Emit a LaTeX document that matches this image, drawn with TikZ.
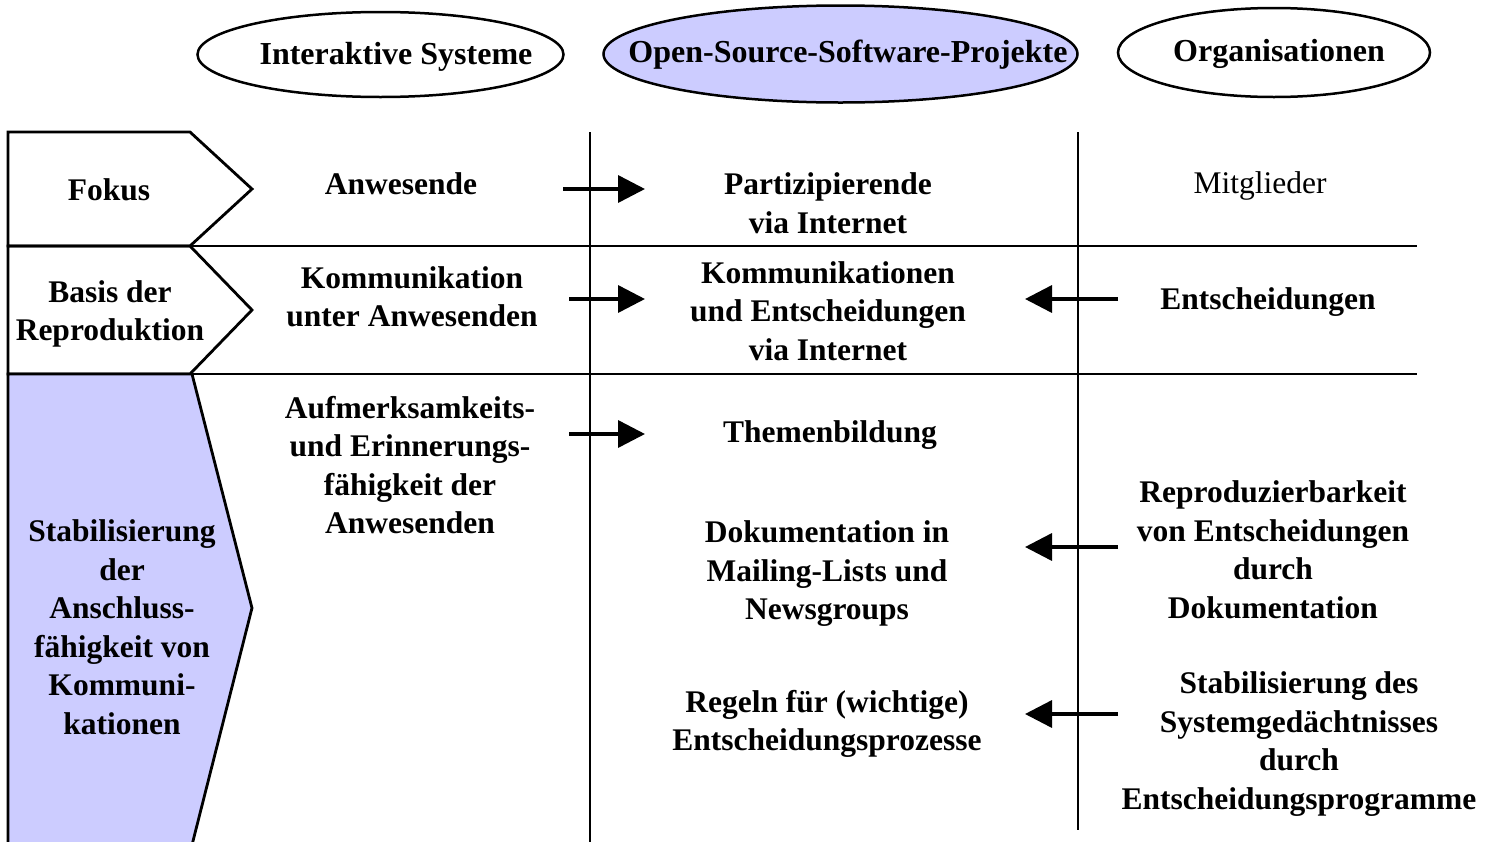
\documentclass[tikz,border=0pt]{standalone}
\usepackage{fontspec}
\setmainfont{Liberation Serif}
\usetikzlibrary{arrows.meta,shapes.geometric}
\definecolor{lav}{HTML}{CCCCFF}
\tikzset{
  txt/.style={align=center,inner sep=0pt,font=\fontsize{31.5}{38.5}\selectfont\bfseries},
  txtr/.style={align=center,inner sep=0pt,font=\fontsize{31.5}{38.5}\selectfont},
  etxt/.style={inner sep=0pt,font=\fontsize{32}{36}\selectfont\bfseries},
  ell/.style={draw,line width=2.5pt},
  grid/.style={line width=2.8pt},
  arr/.style={line width=3.5pt,-{Triangle[length=27pt,width=27pt]}},
}
\begin{document}
\begin{tikzpicture}[x=1pt,y=-1pt]
\useasboundingbox (0,0) rectangle (1489,841);
% ellipses
\draw[ell] (380.5,54.5) ellipse [x radius=183, y radius=42.5];
\draw[ell,fill=lav] (840.5,54) ellipse [x radius=237, y radius=48.5];
\draw[ell] (1274,52.5) ellipse [x radius=156, y radius=44.5];
\node[etxt] (e1) at (396,57) {Interaktive Systeme};
\node[etxt] (e2) at (848,55) {Open-Source-Software-Projekte};
\node[etxt] (e3) at (1279,54) {Organisationen};
% left chevrons
\draw[grid,line join=miter] (8,132) -- (190,132) -- (252,189) -- (190,246) -- (8,246) -- cycle;
\draw[grid,line join=miter] (8,246) -- (190,246) -- (252,310) -- (190,374) -- (8,374) -- cycle;
\draw[grid,fill=lav,line join=miter] (8,374) -- (192,374) -- (252,608) -- (192,845) -- (8,845) -- cycle;
% grid lines
\draw[grid] (190,246) -- (1417,246);
\draw[grid] (190,374) -- (1417,374);
\draw[grid] (590,132) -- (590,845);
\draw[grid] (1078,132) -- (1078,830);
% left labels
\node[txt] (fokus) at (109,190) {Fokus};
\node[txt] (basis) at (110,314) {Basis der\\Reproduktion};
\node[txt] (stab) at (122,627) {Stabilisierung\\der\\Anschluss-\\fähigkeit von\\Kommuni-\\kationen};
% column 1
\node[txt] (anw) at (401,184) {Anwesende};
\node[txt] (kom) at (412,297) {Kommunikation\\unter Anwesenden};
\node[txt] (auf) at (410,465) {Aufmerksamkeits-\\und Erinnerungs-\\fähigkeit der\\Anwesenden};
% column 2
\node[txt] (part) at (828,203) {Partizipierende\\via Internet};
\node[txt] (komm) at (828,311) {Kommunikationen\\und Entscheidungen\\via Internet};
\node[txt] (them) at (830,435) {Themenbildung};
\node[txt] (dok) at (827,574) {Dokumentation in\\Mailing-Lists und\\Newsgroups};
\node[txt] (reg) at (827,724) {Regeln für (wichtige)\\Entscheidungsprozesse};
% column 3
\node[txtr] (mit) at (1260,186) {Mitglieder};
\node[txt] (ent) at (1268,302) {Entscheidungen};
\node[txt] (rep) at (1273,550) {Reproduzierbarkeit\\von Entscheidungen\\durch\\Dokumentation};
\node[txt] (sys) at (1299,744) {Stabilisierung des\\Systemgedächtnisses\\durch\\Entscheidungsprogramme};
% arrow coordinates
\coordinate (a1s) at (563,189); \coordinate (a1e) at (645,189);
\coordinate (a2s) at (569,299); \coordinate (a2e) at (645,299);
\coordinate (a3s) at (569,434); \coordinate (a3e) at (645,434);
\coordinate (b1s) at (1118,299); \coordinate (b1e) at (1025,299);
\coordinate (b2s) at (1118,547); \coordinate (b2e) at (1025,547);
\coordinate (b3s) at (1118,714); \coordinate (b3e) at (1025,714);
\draw[arr] (a1s) -- (a1e);
\draw[arr] (a2s) -- (a2e);
\draw[arr] (a3s) -- (a3e);
\draw[arr] (b1s) -- (b1e);
\draw[arr] (b2s) -- (b2e);
\draw[arr] (b3s) -- (b3e);
\end{tikzpicture}
\end{document}
